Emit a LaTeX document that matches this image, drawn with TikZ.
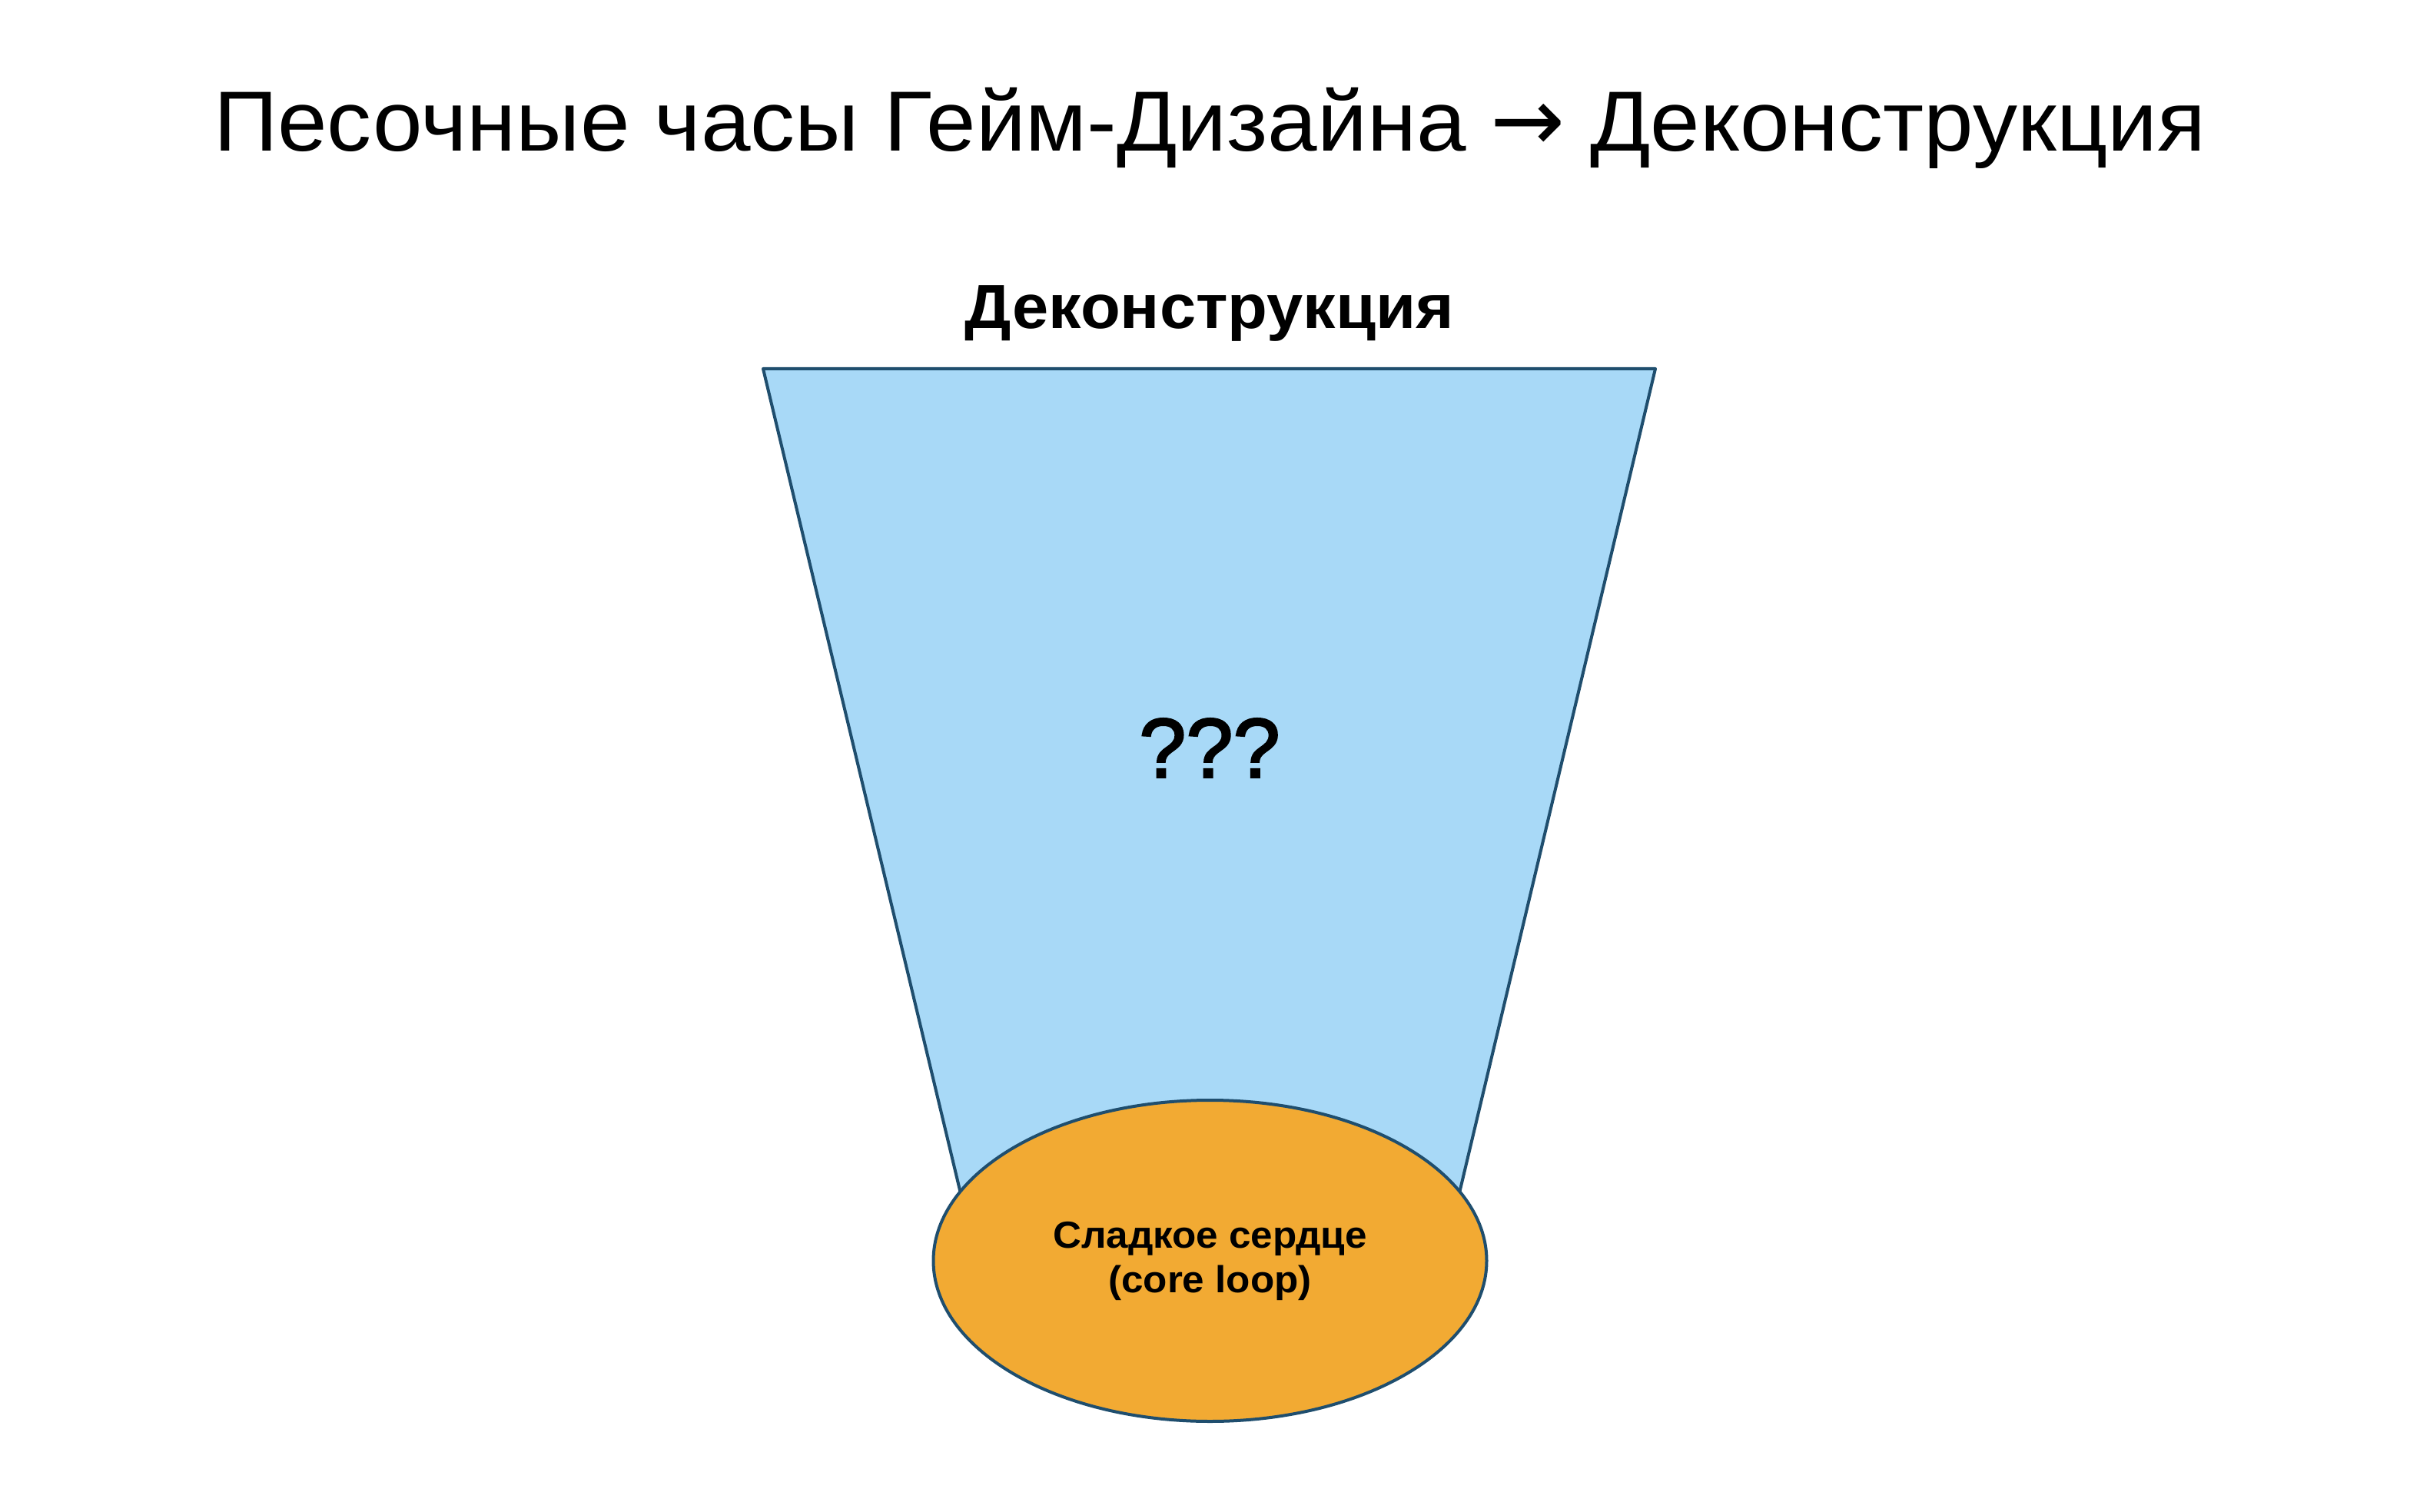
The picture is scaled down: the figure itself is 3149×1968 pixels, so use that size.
\documentclass[tikz,border=0pt]{standalone}
\usepackage{fontspec}
\setmainfont[FakeStretch=1.045]{Liberation Sans}
\newfontfamily\arrowfont{DejaVu Sans}
\newfontfamily\qfont[FakeBold=2.2]{Liberation Sans}
\usetikzlibrary{shapes.geometric}
\definecolor{edgeblue}{HTML}{1F4E6E}
\definecolor{funnelblue}{HTML}{A8D9F7}
\definecolor{coreorange}{HTML}{F2AA33}
\tikzset{
  titletext/.style={anchor=base, inner sep=0pt, font=\fontsize{27.75}{33}\selectfont},
  headtext/.style={anchor=base, inner sep=0pt, font=\bfseries\fontsize{20.3}{24}\selectfont},
  qtext/.style={anchor=base, inner sep=0pt, font=\qfont\fontsize{27.5}{33}\selectfont},
  corebox/.style={ellipse, draw=edgeblue, line width=1pt, fill=coreorange, minimum width=180pt, minimum height=104.5pt, inner sep=0pt, align=center, font=\bfseries\fontsize{12.25}{14.5}\selectfont},
  funnel/.style={draw=edgeblue, line width=1pt, fill=funnelblue, line join=round}
}
\begin{document}
\begin{tikzpicture}[x=0.25pt, y=-0.25pt]
\useasboundingbox (0,0) rectangle (3149,1968);
\fill[white] (0,0) rectangle (3149,1968);
\node[titletext] (title) at (1574,197) {Песочные часы Гейм-Дизайна {\arrowfont\fontsize{29}{33}\selectfont →} Деконструкция};
\node[headtext] (head) at (1574,428) {Деконструкция};
\coordinate (tl) at (993,480);
\coordinate (tr) at (2154,480);
\coordinate (bl) at (1271,1641);
\coordinate (br) at (1878,1641);
\filldraw[funnel] (bl) -- (tl) -- (tr) -- (br) -- cycle;
\node[qtext] (q) at (1574,1012) {???};
\node[corebox] (core) at (1574.5,1641) {Сладкое сердце\\(core loop)};
\end{tikzpicture}
\end{document}
